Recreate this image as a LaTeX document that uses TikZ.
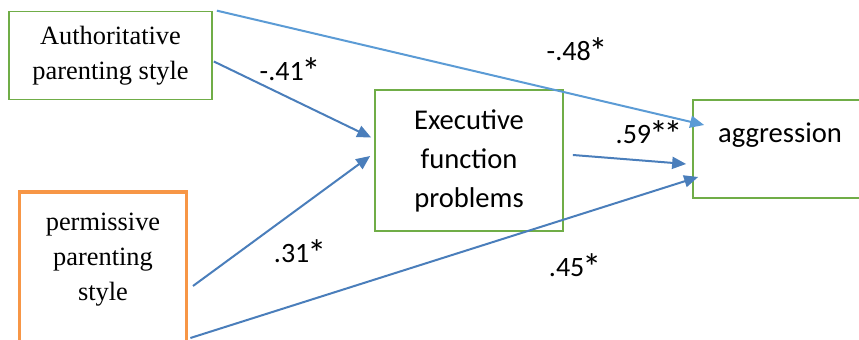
\documentclass[tikz,border=0pt]{standalone}
\usepackage{fontspec}
\usepackage{graphicx}
\setmainfont{Liberation Serif}
\newfontfamily\calibri{Carlito}
\usetikzlibrary{arrows.meta}
\definecolor{boxgreen}{HTML}{70AD47}
\definecolor{boxorange}{HTML}{F79646}
\definecolor{pathblue}{HTML}{4A7EBB}
\definecolor{lightblue}{HTML}{5B9BD5}
\newcommand\sigstar{\makebox[0.52em]{\raisebox{-0.14em}{\scalebox{1.35}{*}}}}

\begin{document}
\begin{tikzpicture}[x=0.5pt, y=-0.5pt,
        greenbox/.style={draw=boxgreen, line width=0.85pt, inner sep=0pt},
        orangebox/.style={draw=boxorange, line width=1.9pt, inner sep=0pt},
        serifText/.style={font=\fontsize{13.2}{17.5}\selectfont, align=center},
        sansText/.style={font=\calibri\fontsize{14.3}{19.5}\selectfont, align=center},
        effect/.style={draw=pathblue, line width=1pt, -{Triangle[length=7pt,width=6pt]}},
        coef/.style={font=\calibri\fontsize{14}{17}\selectfont, anchor=base}]
        \useasboundingbox (0,0) rectangle (859,340);

        \node[greenbox, serifText, minimum width=101.5pt, minimum height=44pt] (auth) at (110.5,55.5) {Authoritative\\parenting style};
        \node[orangebox, minimum width=83.5pt, minimum height=77pt] (perm) at (103,269) {};
        \node[serifText] (permtext) at (103,260) {permissive\\parenting\\style};
        \node[greenbox, sansText, minimum width=94pt, minimum height=70.5pt] (exec) at (469,160.5) {Executive\\function\\problems};
        \node[greenbox, minimum width=87pt, minimum height=49pt] (aggr) at (780,149) {};
        \node[sansText, anchor=base] (aggrtext) at (780,143) {aggression};

        \draw[effect, draw=lightblue] ([xshift=2pt]auth.north east) -- ([xshift=6pt,yshift=12pt]aggr.west);
        \draw[effect] ([xshift=0.5pt,yshift=-3pt]auth.east) -- ([xshift=-1.5pt,yshift=11.5pt]exec.west);
        \draw[effect] ([xshift=2.3pt,yshift=-8.5pt]perm.east) -- ([xshift=-2pt,yshift=2.25pt]exec.west);
        \draw[effect] ([xshift=1pt,yshift=-34.5pt]perm.east) -- ([xshift=3pt,yshift=-14pt]aggr.west);
        \draw[effect] ([xshift=4.5pt,yshift=2.75pt]exec.east) -- ([xshift=-3pt,yshift=-7.5pt]aggr.west);

        \node[coef] (authexec) at (289,81) {-.41\sigstar};
        \node[coef] (authaggr) at (576,61) {-.48\sigstar};
        \node[coef] (execaggr) at (648,144) {.59\sigstar\sigstar};
        \node[coef] (permexec) at (299,263) {.31\sigstar};
        \node[coef] (permaggr) at (574,277) {.45\sigstar};
\end{tikzpicture}
\end{document}
